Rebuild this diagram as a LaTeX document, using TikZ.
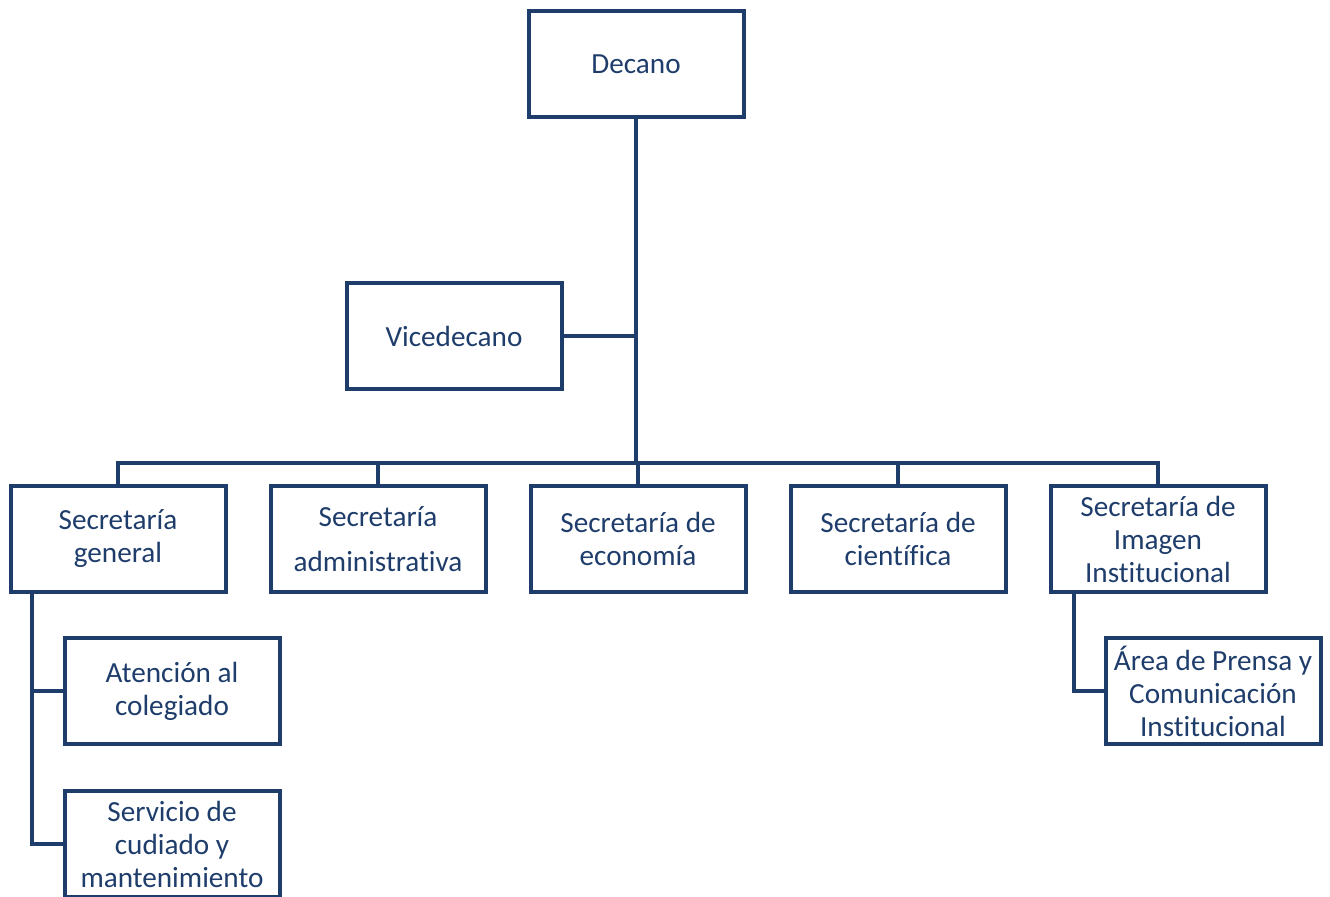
\documentclass[tikz,border=0pt]{standalone}
\usepackage{fontspec}
\setmainfont{Carlito}[Ligatures=NoCommon]
\usetikzlibrary{positioning,calc}
\definecolor{orgblue}{RGB}{31,61,107}
\tikzstyle{orgnode} = [draw=orgblue,line width=2pt,text=orgblue,align=center,minimum width=107.5pt,minimum height=53pt,inner sep=1pt,font=\fontsize{14.6pt}{16.5pt}\selectfont]
\tikzstyle{orglink} = [draw=orgblue,line width=2pt]

\begin{document}
\begin{tikzpicture}[x=0.5pt,y=-0.5pt,node distance=20.5pt]
%
\useasboundingbox (0,0) rectangle (1330,897);

\node (decano) [orgnode] at (636,64) {Decano};
\node (vice) [orgnode] at (454,336) {Vicedecano};

\node (secgen) [orgnode] at (118,539) {Secretaría\\general};
\node (secadm) [orgnode, right = of secgen] {Secretaría\\[6pt]administrativa};
\node (sececo) [orgnode, right = of secadm] {Secretaría de\\economía};
\node (seccie) [orgnode, right = of sececo] {Secretaría de\\científica};
\node (secimg) [orgnode, right = of seccie] {Secretaría de\\Imagen\\Institucional};

\node (atencion) [orgnode] at (172,691) {Atención al\\colegiado};
\node (servicio) [orgnode] at (172,844) {Servicio de\\cudiado y\\mantenimiento};
\node (prensa) [orgnode] at (1213,691) {Área de Prensa y\\Comunicación\\Institucional};

\coordinate (bus) at (0,463);
\coordinate (gstem) at ($(secgen.south west)+(23,0)$);
\coordinate (istem) at ($(secimg.south west)+(25,0)$);

%
\draw [orglink] (decano) -- (decano |- bus);
\draw [orglink] (vice) -- (vice -| decano);
\draw [orglink] (secgen.north) -- (secgen |- bus) -- (secimg |- bus) -- (secimg.north);
\foreach \n in {secadm,sececo,seccie}
  \draw [orglink] (\n.north) -- (\n |- bus);
\draw [orglink] (gstem) |- (atencion.west);
\draw [orglink] (gstem) |- (servicio.west);
\draw [orglink] (istem) |- (prensa.west);
\end{tikzpicture}
\end{document}
